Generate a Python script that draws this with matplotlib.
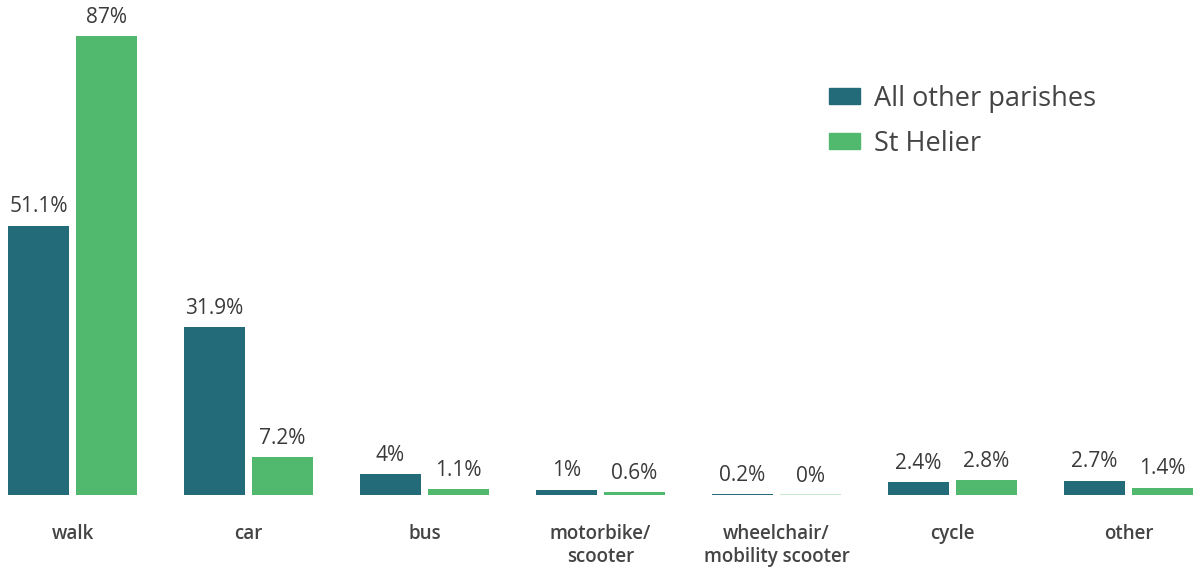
import matplotlib
matplotlib.use("Agg")
import matplotlib.pyplot as plt
import numpy as np
from matplotlib.patches import Patch

categories = ["walk", "car", "bus", "motorbike/\nscooter", "wheelchair/\nmobility scooter", "cycle", "other"]
other_parishes = [51.1, 31.9, 4, 1, 0.2, 2.4, 2.7]
st_helier = [87, 7.2, 1.1, 0.6, 0, 2.8, 1.4]
series_names = ["All other parishes", "St Helier"]

c_dark = "#246B7A"
c_green = "#50B96E"
txt = "#3a3a3a"

plt.rcParams['font.family'] = ['Open Sans', 'DejaVu Sans']

fig = plt.figure(figsize=(11.97, 5.67), dpi=100)
ax = fig.add_axes([0, 72/567, 1, 1 - 72/567])

x = np.arange(len(categories))
w = 0.347
off = 0.193
b1 = ax.bar(x - off, other_parishes, w, color=c_dark, linewidth=0)
zero_col = "#c5e9cf"
b2 = ax.bar(x + off, st_helier, w, color=[c_green if v > 0 else zero_col for v in st_helier],
            edgecolor=[c_green if v > 0 else zero_col for v in st_helier],
            linewidth=[0 if v > 0 else 1.5 for v in st_helier])

def fmt(v):
    return f"{v:g}%"

for bars, vals in ((b1, other_parishes), (b2, st_helier)):
    for r, v in zip(bars, vals):
        ax.annotate(fmt(v), (r.get_x() + r.get_width()/2, v), xytext=(0, 6),
                    textcoords="offset points", ha="center", va="bottom",
                    fontsize=15, color=txt)

ax.set_xlim(-0.412, -0.412 + 1197/176)
ax.set_ylim(0, 93.9)
ax.set_xticks(x)
ax.set_xticklabels(categories, fontsize=13.5, fontweight="semibold", color="#444444", linespacing=1.2)
ax.tick_params(axis="x", length=0, pad=21)
ax.set_yticks([])
for s in ax.spines.values():
    s.set_visible(False)

handles = [Patch(color=c_dark), Patch(color=c_green)]
leg = ax.legend(handles, series_names, loc="upper left", bbox_to_anchor=(818/1197, 1 - 74/495),
                frameon=False, fontsize=19.5, handlelength=1.15, handleheight=0.55,
                handletextpad=0.5, labelspacing=0.62, borderaxespad=0)
for t in leg.get_texts():
    t.set_color("#444444")

fig.savefig("out.png", dpi=100)
